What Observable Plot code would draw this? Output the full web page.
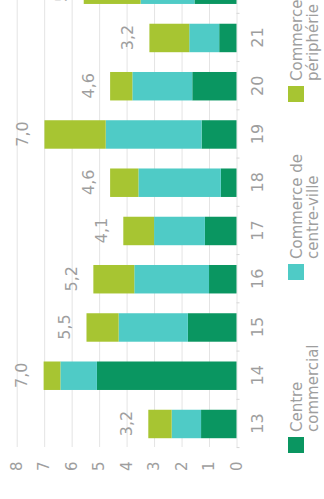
<!DOCTYPE html>
<html>
<head>
<meta charset="utf-8">
<script src="https://cdn.jsdelivr.net/npm/d3@7"></script>
<script src="https://cdn.jsdelivr.net/npm/@observablehq/plot@0.6"></script>
<style>
  html, body { margin: 0; padding: 0; background: #fff; overflow: hidden; }
  body { width: 324px; height: 499px; position: relative; }
  #rot { position: absolute; left: 0; top: 0; width: 499px; height: 324px;
         transform-origin: 0 0; transform: translate(0, 499px) rotate(-90deg);
         font-family: "DejaVu Sans", sans-serif; color: #9e9e9e; overflow: hidden; }
  .item { position: absolute; top: 288px; display: flex; align-items: flex-start; }
  .sw { width: 16px; height: 16px; flex: none; }
  .lab { font-size: 15px; line-height: 16px; margin-left: 5px; margin-top: 1px; white-space: nowrap; }
</style>
</head>
<body>
<div id="rot"></div>
<script>
// Categories (x axis) — the last one is cut off by the crop
const categories = ["13", "14", "15", "16", "17", "18", "19", "20", "21", "22"];
// Tick labels visible on the category axis
const xTickLabels = ["13", "14", "15", "16", "17", "18", "19", "20", "21"];
// Series values (stacked, bottom to top)
const centreCommercial = [1.29, 5.08, 1.77, 1.00, 1.15, 0.57, 1.27, 1.61, 0.63, 1.53];
const commerceCentreVille = [1.07, 1.33, 2.52, 2.72, 1.85, 3.00, 3.49, 2.18, 1.09, 1.96];
const commercePeripherie = [0.85, 0.61, 1.17, 1.49, 1.12, 1.03, 2.23, 0.81, 1.45, 2.07];
// Total labels shown above bars
const totalLabels = ["3,2", "7,0", "5,5", "5,2", "4,1", "4,6", "7,0", "4,6", "3,2", "5,6"];
// Value axis ticks
const yTicks = [0, 1, 2, 3, 4, 5, 6, 7, 8];
// Series names and colours
const seriesNames = ["Centre commercial", "Commerce de centre-ville", "Commerce périphérie"];
const seriesLegend = [["Centre", "commercial"], ["Commerce de", "centre-ville"], ["Commerce", "périphérie"]];
const seriesColors = ["#0a9661", "#4fcbc6", "#a7c532"];

const seriesValues = [centreCommercial, commerceCentreVille, commercePeripherie];
const rows = [];
categories.forEach((c, i) => {
  seriesValues.forEach((vals, s) => rows.push({cat: c, series: seriesNames[s], value: vals[i]}));
});
const totals = categories.map((c, i) => ({
  cat: c,
  total: centreCommercial[i] + commerceCentreVille[i] + commercePeripherie[i],
  label: totalLabels[i]
}));

const textColor = "#9e9e9e";
const chart = Plot.plot({
  width: 499,
  height: 280,
  marginLeft: 52,
  marginRight: 0,
  marginTop: 16.7,
  marginBottom: 43.5,
  style: {fontFamily: "DejaVu Sans, sans-serif", color: textColor, background: "transparent"},
  x: {domain: categories, range: [41, 543.3], padding: 0.41, round: false, axis: null},
  y: {domain: [0, 8], axis: null},
  color: {domain: seriesNames, range: seriesColors},
  marks: [
    Plot.ruleY(yTicks, {stroke: "#e4e4e4", strokeWidth: 1}),
    Plot.axisY(yTicks, {tickSize: 0, tickPadding: 15, fontSize: 15, fill: textColor, label: null}),
    Plot.axisX(xTickLabels, {tickSize: 0, tickPadding: 15, fontSize: 16, fill: textColor, label: null}),
    Plot.axisX(categories, {text: null, tickSize: 3, dx: -24.1, stroke: "#d6d6d6", label: null}),
    Plot.barY(rows, Plot.stackY({x: "cat", y: "value", fill: "series", order: seriesNames})),
    Plot.text(totals, {x: "cat", y: "total", text: "label", dy: -22, lineAnchor: "middle", fontSize: 16, fill: textColor})
  ]
});
const rot = document.getElementById("rot");
rot.appendChild(chart);

const legendLeft = [46, 219, 397];
seriesNames.forEach((name, i) => {
  const item = document.createElement("div");
  item.className = "item";
  item.style.left = legendLeft[i] + "px";
  const sw = document.createElement("div");
  sw.className = "sw";
  sw.style.background = seriesColors[i];
  const lab = document.createElement("div");
  lab.className = "lab";
  lab.innerHTML = seriesLegend[i].join("<br>");
  item.appendChild(sw);
  item.appendChild(lab);
  rot.appendChild(item);
});
</script>
</body>
</html>
